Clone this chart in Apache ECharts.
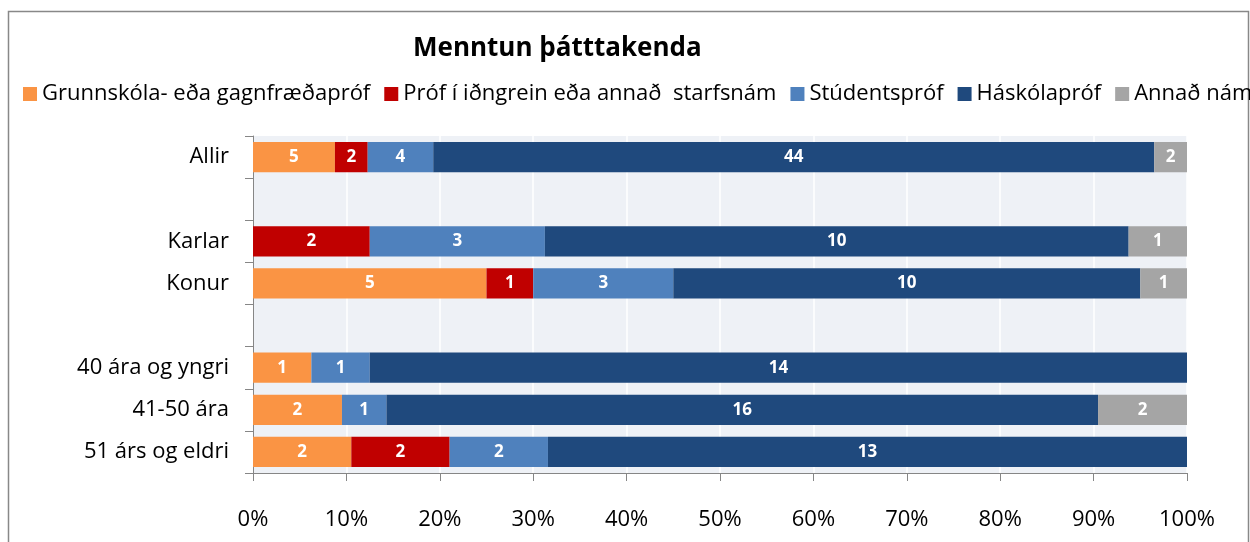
<!DOCTYPE html>
<html>
<head>
<meta charset="utf-8">
<script src="https://cdn.jsdelivr.net/npm/echarts@6/dist/echarts.min.js"></script>
<style>
  html, body { margin: 0; padding: 0; background: #fff; }
  #main { width: 1250px; height: 542px; }
</style>
</head>
<body>
<div id="main"></div>
<script>
// categories top -> bottom, '' are spacer rows
const categories = ['Allir', '', 'Karlar', 'Konur', ' ', '40 ára og yngri', '41-50 ára', '51 árs og eldri'];
const seriesNames = ['Grunnskóla- eða gagnfræðapróf', 'Próf í iðngrein eða annað  starfsnám', 'Stúdentspróf', 'Háskólapróf', 'Annað nám'];
const grunnskoli = [5, null, 0, 5, null, 1, 2, 2];
const idngrein   = [2, null, 2, 1, null, 0, 0, 2];
const studentsprof = [4, null, 3, 3, null, 1, 1, 2];
const haskolaprof = [44, null, 10, 10, null, 14, 16, 13];
const annad = [2, null, 1, 1, null, 0, 2, 0];
const xTicks = [0, 10, 20, 30, 40, 50, 60, 70, 80, 90, 100];
const colors = ['#FA9444', '#C00000', '#4F81BD', '#1F497D', '#A5A5A5'];

const counts = [grunnskoli, idngrein, studentsprof, haskolaprof, annad];
const totals = categories.map((c, i) => counts.reduce((s, arr) => s + (arr[i] || 0), 0));

const myChart = echarts.init(document.getElementById('main'));
const font = '"Open Sans", "Noto Sans", sans-serif';

const series = counts.map((arr, k) => ({
    name: seriesNames[k],
    type: 'bar',
    stack: 'all',
    barCategoryGap: '28%',
    itemStyle: { color: colors[k] },
    label: {
        show: true,
        color: '#fff',
        fontWeight: 'bold',
        fontSize: 17,
        fontFamily: font,
        formatter: p => {
            const v = arr[p.dataIndex];
            return v ? String(v) : '';
        }
    },
    data: arr.map((v, i) => (v == null || totals[i] === 0) ? null : (v ? v / totals[i] * 100 : 0))
}));

const option = {
    animation: false,
    title: {
        text: 'Menntun þátttakenda',
        left: 408,
        top: 31,
        textStyle: { fontFamily: font, fontSize: 26, fontWeight: 'bold', color: '#000' }
    },
    legend: {
        left: 18,
        top: 78,
        width: 1400,
        itemWidth: 14,
        itemHeight: 14,
        itemGap: 14,
        icon: 'rect',
        textStyle: { fontFamily: font, fontSize: 22, color: '#000' },
        data: seriesNames
    },
    graphic: [{
        type: 'rect',
        shape: { x: 8.5, y: 11.5, width: 1240, height: 560 },
        style: { fill: 'none', stroke: '#888', lineWidth: 1.5 },
        silent: true
    }],
    grid: {
        left: 253,
        right: 63,
        top: 136,
        bottom: 69,
        show: true,
        backgroundColor: '#EEF1F6',
        borderWidth: 0
    },
    xAxis: {
        type: 'value',
        min: 0,
        max: 100,
        interval: 10,
        axisLine: { show: true, lineStyle: { color: '#868686' } },
        axisTick: { show: true, length: 8, lineStyle: { color: '#868686' } },
        splitLine: { show: true, lineStyle: { color: '#fff', width: 1.5 } },
        axisLabel: {
            margin: 36,
            fontFamily: font,
            fontSize: 22,
            color: '#000',
            formatter: v => xTicks.includes(v) ? v + '%' : ''
        }
    },
    yAxis: {
        type: 'category',
        inverse: true,
        data: categories,
        axisLine: { show: true, lineStyle: { color: '#868686' } },
        axisTick: { show: true, length: 8, lineStyle: { color: '#868686' } },
        axisLabel: { margin: 24, fontFamily: font, fontSize: 22, color: '#000' }
    },
    series: series
};

myChart.setOption(option);
</script>
</body>
</html>
